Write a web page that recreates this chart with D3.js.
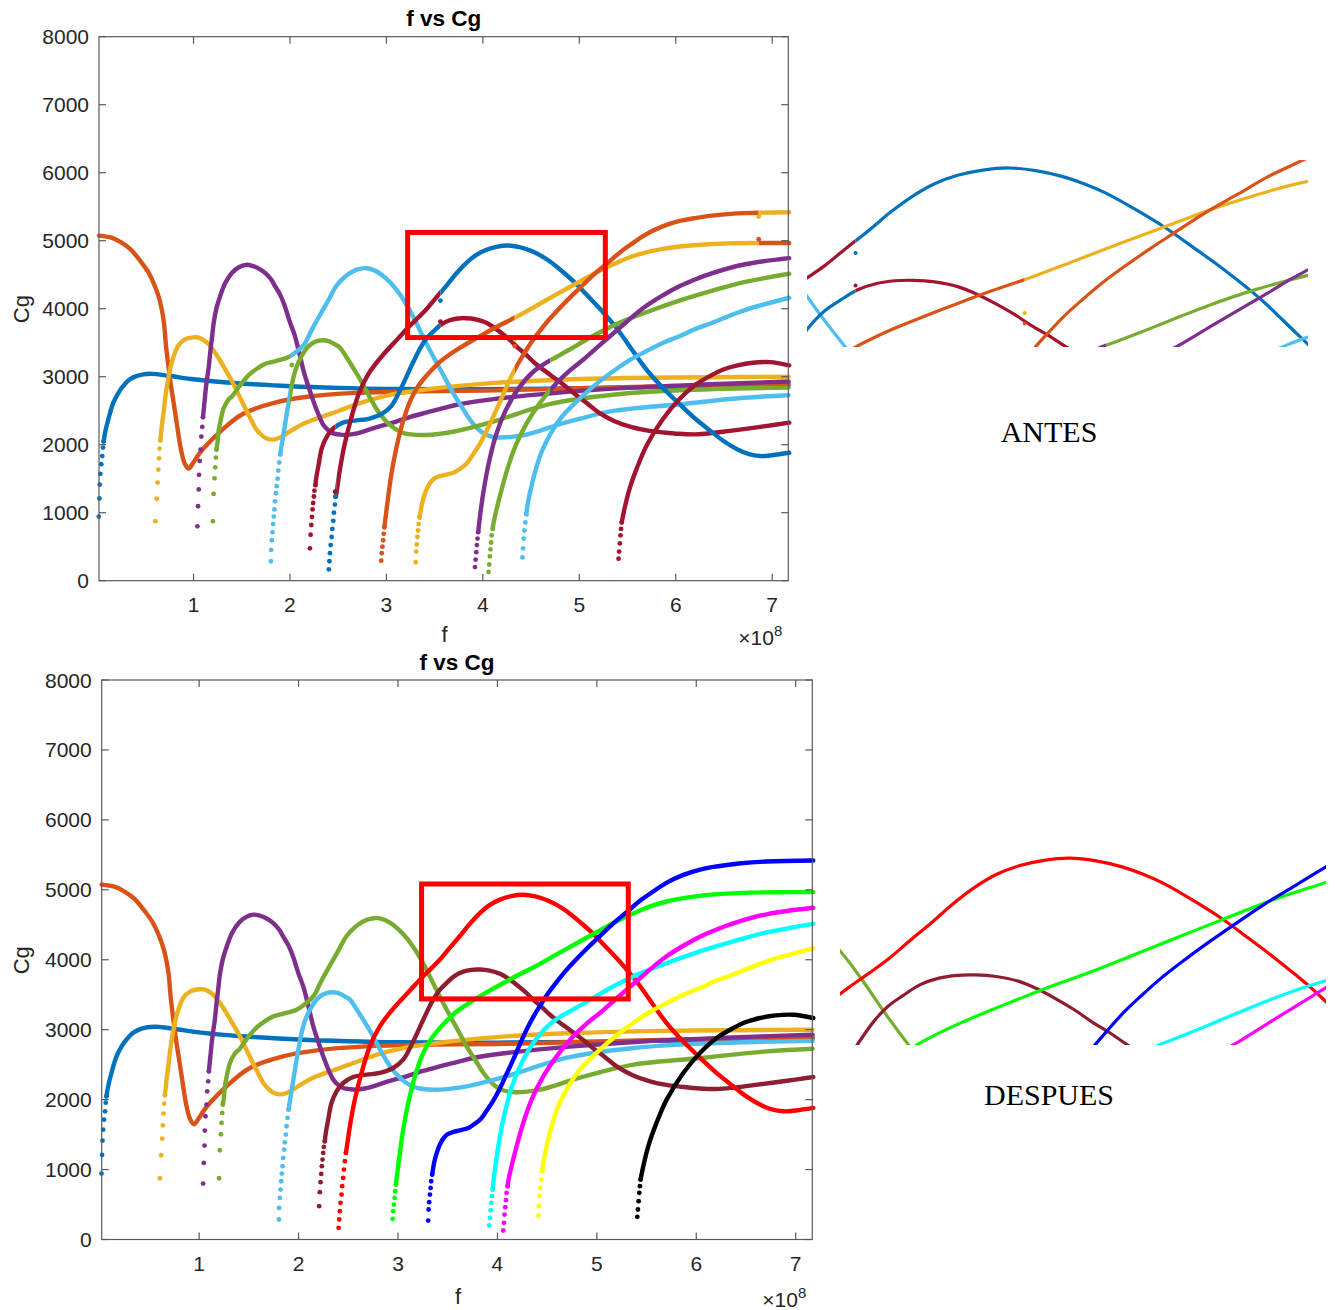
<!DOCTYPE html>
<html><head><meta charset="utf-8">
<script src="https://cdn.jsdelivr.net/npm/d3@7"></script>
<style>body{margin:0;background:#fff}svg{display:block}</style>
</head><body>
<svg id="c" width="1335" height="1310"></svg>
<script>
// ---------------- data (f in units of 1e8, Cg) ----------------
const xTicks = [1,2,3,4,5,6,7];
const yTicks = [0,1000,2000,3000,4000,5000,6000,7000,8000];
const fDomain = [0.02, 7.167];
const cgDomain = [0, 8000];

const m1Dots = [[0.018,943],[0.024,1210],[0.028,1414],[0.034,1571],[0.044,1714],[0.054,1833],[0.061,1957],[0.068,2048]];
const m1 = [[0.085,2190],[0.118,2381],[0.169,2619],[0.22,2760],[0.27,2860],[0.33,2950],[0.40,3005],[0.48,3035],[0.57,3042],[0.74,3014],[1.0,2962],[1.25,2925],[1.5,2900],[2.0,2860],[2.5,2835],[3.0,2820],[4.0,2815],[5.0,2830],[6.0,2850],[7.17,2870]];

const m2Dots = [];
const m2 = [[0.02,5075],[0.15,5045],[0.25,4975],[0.35,4870],[0.45,4700],[0.53,4540],[0.6,4330],[0.65,4120],[0.69,3830],[0.715,3450],[0.74,3150],[0.765,2880],[0.8,2560],[0.833,2250],[0.87,1930],[0.91,1720],[0.95,1648],[0.99,1720],[1.05,1850],[1.108,1952],[1.275,2190],[1.51,2452],[1.845,2619],[2.18,2705],[2.68,2762],[3.36,2786],[4.0,2795],[5.0,2830],[6.0,2865],[7.17,2900]];

const m3Dots = [[0.605,876],[0.618,1205],[0.628,1443],[0.635,1633],[0.642,1800],[0.648,1943],[0.655,2062]];
const m3 = [[0.665,2181],[0.672,2286],[0.69,2476],[0.705,2667],[0.735,2952],[0.78,3238],[0.84,3452],[0.91,3548],[1.0,3578],[1.06,3572],[1.14,3500],[1.21,3380],[1.275,3238],[1.34,3080],[1.41,2905],[1.48,2700],[1.54,2524],[1.6,2360],[1.645,2238],[1.7,2150],[1.745,2100],[1.81,2075],[1.88,2095],[1.95,2150],[2.05,2240],[2.18,2333],[2.35,2420],[2.51,2500],[2.68,2590],[2.85,2667],[3.1,2750],[3.4,2810],[3.75,2865],[4.09,2905],[4.76,2952],[5.5,2980],[6.37,2992],[7.17,3000]];

const m4Dots = [[1.040,800],[1.047,1095],[1.054,1343],[1.057,1557],[1.064,1762],[1.074,1929],[1.081,2119],[1.091,2262],[1.098,2405]];
const m4 = [[1.108,2548],[1.118,2690],[1.128,2833],[1.141,2976],[1.158,3143],[1.175,3381],[1.191,3571],[1.21,3800],[1.24,4020],[1.275,4180],[1.33,4380],[1.4,4530],[1.47,4610],[1.543,4645],[1.61,4630],[1.678,4590],[1.745,4524],[1.8,4440],[1.845,4333],[1.9,4200],[1.946,4040],[2.0,3800],[2.047,3619],[2.1,3330],[2.148,3048],[2.2,2820],[2.248,2619],[2.3,2430],[2.349,2286],[2.4,2210],[2.449,2167],[2.52,2148],[2.583,2143],[2.65,2155],[2.751,2190],[2.9,2260],[3.086,2333],[3.25,2410],[3.421,2476],[3.6,2540],[3.757,2595],[4.092,2667],[4.763,2762],[5.5,2835],[6.3,2885],[7.17,2930]];

const m5Dots = [[1.201,876],[1.208,1276],[1.218,1505],[1.225,1667],[1.232,1810],[1.238,1929]];
const m5 = [[1.248,2024],[1.26,2200],[1.28,2350],[1.31,2524],[1.36,2660],[1.41,2730],[1.48,2870],[1.577,3030],[1.66,3120],[1.745,3190],[1.85,3230],[1.98,3286],[2.06,3360],[2.148,3476],[2.23,3700],[2.31,3905],[2.4,4130],[2.48,4333],[2.57,4470],[2.65,4548],[2.72,4585],[2.8,4595],[2.88,4560],[2.95,4500],[3.05,4370],[3.15,4190],[3.237,3990],[3.32,3762],[3.40,3530],[3.49,3286],[3.6,3000],[3.69,2762],[3.78,2560],[3.86,2381],[3.95,2230],[4.03,2150],[4.12,2110],[4.19,2105],[4.3,2115],[4.43,2143],[4.6,2210],[4.76,2286],[5.0,2380],[5.37,2500],[6.04,2595],[6.71,2690],[7.17,2728]];

const m6Dots = [[1.802,286],[1.805,452],[1.812,595],[1.819,714],[1.825,833],[1.832,943],[1.839,1048],[1.845,1167],[1.855,1286],[1.862,1390],[1.872,1500],[1.879,1619],[1.889,1738],[1.899,1857]];
const m6 = [[1.912,1976],[1.929,2119],[1.953,2333],[1.986,2619],[2.03,2952],[2.06,3110],[2.097,3238],[2.14,3350],[2.18,3429],[2.23,3490],[2.28,3524],[2.34,3535],[2.40,3524],[2.46,3480],[2.516,3429],[2.58,3300],[2.65,3143],[2.72,2980],[2.785,2810],[2.85,2640],[2.92,2476],[3.0,2340],[3.086,2238],[3.16,2180],[3.25,2152],[3.42,2143],[3.55,2160],[3.69,2190],[4.09,2333],[4.7,2600],[5.37,2738],[6.04,2800],[7.17,2840]];

const m7Dots = [[2.207,476],[2.214,676],[2.221,819],[2.228,938],[2.234,1048],[2.241,1143],[2.248,1238],[2.254,1324],[2.264,1405]];
const m7 = [[2.274,1524],[2.298,1714],[2.331,1952],[2.382,2119],[2.449,2238],[2.549,2324],[2.683,2357],[2.817,2381],[2.952,2452],[3.052,2571],[3.153,2833],[3.254,3143],[3.354,3429],[3.42,3570],[3.488,3667],[3.57,3770],[3.656,3830],[3.74,3856],[3.824,3860],[3.92,3845],[4.025,3800],[4.11,3730],[4.193,3643],[4.28,3540],[4.361,3429],[4.45,3320],[4.528,3214],[4.62,3110],[4.696,3030],[4.83,2890],[4.95,2750],[5.08,2610],[5.199,2476],[5.36,2350],[5.534,2262],[5.7,2210],[5.869,2181],[6.03,2160],[6.205,2152],[6.37,2170],[6.54,2200],[6.875,2262],[7.177,2324]];

const m8Dots = [[2.403,167],[2.409,286],[2.415,405],[2.422,524],[2.432,643],[2.439,762],[2.449,881],[2.456,1000],[2.466,1119],[2.476,1238]];
const m8 = [[2.489,1357],[2.516,1619],[2.566,2000],[2.633,2381],[2.717,2762],[2.817,3048],[2.952,3300],[3.12,3560],[3.237,3740],[3.33,3870],[3.42,4000],[3.52,4170],[3.623,4340],[3.72,4510],[3.824,4667],[3.92,4780],[4.025,4860],[4.14,4910],[4.26,4930],[4.38,4905],[4.5,4850],[4.6,4780],[4.7,4690],[4.83,4540],[4.964,4370],[5.08,4200],[5.2,4020],[5.3,3860],[5.366,3750],[5.434,3625],[5.57,3350],[5.702,3095],[5.87,2830],[6.037,2600],[6.2,2385],[6.372,2190],[6.5,2050],[6.641,1929],[6.76,1860],[6.875,1833],[7.0,1845],[7.177,1881]];

const m9Dots = [[2.946,295],[2.952,405],[2.959,500],[2.966,595],[2.972,690],[2.979,786]];
const m9 = [[2.993,952],[3.019,1238],[3.052,1571],[3.103,1952],[3.170,2333],[3.254,2667],[3.32,2840],[3.388,2970],[3.47,3100],[3.556,3220],[3.66,3330],[3.757,3420],[3.9,3540],[4.025,3640],[4.18,3760],[4.361,3890],[4.55,4040],[4.763,4210],[5.031,4420],[5.2,4550],[5.366,4660],[5.53,4760],[5.702,4833],[5.87,4880],[6.037,4914],[6.3,4945],[6.54,4960],[6.86,4966],[7.177,4967]];

const m10Dots = [[3.304,271],[3.308,429],[3.314,533],[3.321,643],[3.328,738],[3.334,833],[3.344,929]];
const m10 = [[3.371,1143],[3.421,1357],[3.47,1470],[3.505,1510],[3.56,1540],[3.623,1560],[3.70,1590],[3.757,1640],[3.83,1720],[3.891,1840],[3.96,1990],[4.025,2160],[4.09,2360],[4.159,2571],[4.226,2790],[4.293,3000],[4.36,3180],[4.428,3340],[4.51,3520],[4.595,3680],[4.68,3830],[4.763,3960],[4.9,4160],[5.0,4297],[5.15,4500],[5.30,4680],[5.44,4850],[5.53,4940],[5.7,5100],[5.87,5214],[6.04,5290],[6.2,5333],[6.45,5380],[6.71,5405],[7.177,5419]];

const m11Dots = [[3.918,200],[3.925,310],[3.932,419],[3.938,524],[3.945,619],[3.952,714]];
const m11 = [[3.959,810],[3.975,1000],[4.009,1333],[4.059,1714],[4.126,2095],[4.227,2476],[4.361,2810],[4.528,3080],[4.65,3200],[4.763,3290],[4.9,3400],[5.031,3510],[5.165,3619],[5.366,3762],[5.55,3870],[5.702,3952],[6.037,4119],[6.372,4262],[6.708,4390],[7.177,4514]];

const m12Dots = [[4.059,129],[4.066,238],[4.072,357],[4.079,462],[4.086,562],[4.092,667],[4.102,762]];
const m12 = [[4.112,857],[4.142,1048],[4.193,1333],[4.26,1667],[4.344,2000],[4.461,2333],[4.595,2619],[4.763,2905],[4.9,3090],[5.04,3250],[5.2,3450],[5.44,3743],[5.55,3880],[5.702,4050],[5.87,4200],[6.037,4330],[6.2,4430],[6.372,4520],[6.708,4650],[7.177,4743]];

const m13Dots = [[4.411,343],[4.417,476],[4.424,619],[4.431,738],[4.441,857],[4.451,976]];
const m13 = [[4.461,1095],[4.495,1333],[4.545,1619],[4.612,1905],[4.713,2190],[4.83,2429],[5.031,2714],[5.2,2920],[5.366,3095],[5.53,3250],[5.702,3381],[5.87,3500],[6.037,3595],[6.2,3700],[6.372,3790],[6.708,3976],[7.177,4161]];

const m14Dots = [[5.407,324],[5.413,429],[5.42,548],[5.427,667],[5.433,762],[5.44,857]];
const m14 = [[5.467,1048],[5.517,1333],[5.6,1667],[5.702,2000],[5.869,2381],[6.037,2667],[6.205,2881],[6.372,3024],[6.5,3110],[6.641,3167],[6.8,3205],[6.976,3214],[7.177,3167]];

// "ANTES" (before) tracking: [f where segment starts, palette index]
const antes1 = [[0,0]];
const antes2 = [[0,1]];
const antes3 = [[0,2]];
const antes4 = [[0,3]];
const antes5 = [[0,4],[2.0,5]];
const antes6 = [[0,5],[2.0,4]];
const antes7 = [[0,6],[2.47,0],[3.56,6]];
const antes8 = [[0,0],[2.48,6],[3.56,0]];
const antes9 = [[0,1],[4.33,2],[6.86,1]];
const antes10 = [[0,2],[4.33,1],[6.86,2]];
const antes11 = [[0,3],[4.70,4]];
const antes12 = [[0,4],[4.70,3]];
const antes13 = [[0,5]];
const antes14 = [[0,6]];

// stray single points in the "ANTES" plot
const strayF     = [2.02, 2.468, 2.47, 3.56, 3.56, 4.33, 4.33, 6.86, 6.86];
const strayCg    = [3172, 1309, 1235, 4120, 3810, 3550, 3450, 5353, 5021];
const strayColor = [4, 6, 0, 0, 6, 2, 1, 2, 1];

// zoom rectangles (f range, Cg range)
const rectAntes   = [3.22, 5.27, 3576, 5121];
const rectDespues = [3.237, 5.316, 3440, 5083];
const insetAntesDomain   = [[3.339, 5.62], [3225, 5006]];
const insetDespuesDomain = [[3.20, 5.44], [3217, 5142]];

// ---------------- styles ----------------
const matlabPalette = ['#0072BD','#D95319','#EDB120','#7E2F8E','#77AC30','#4DBEEE','#A2142F'];
const despuesColors = ['#0072BD','#D95319','#EDB120','#7E2F8E','#77AC30','#4DBEEE','#8E1E2F',
                       '#FF0000','#00FF00','#0000FF','#00FFFF','#FF00FF','#FFFF00','#000000'];

const modeLines = [m1,m2,m3,m4,m5,m6,m7,m8,m9,m10,m11,m12,m13,m14];
const modeDots  = [m1Dots,m2Dots,m3Dots,m4Dots,m5Dots,m6Dots,m7Dots,m8Dots,m9Dots,m10Dots,m11Dots,m12Dots,m13Dots,m14Dots];
const antesSegs = [antes1,antes2,antes3,antes4,antes5,antes6,antes7,antes8,antes9,antes10,antes11,antes12,antes13,antes14];

const svg = d3.select('#c');
const defs = svg.append('defs');
let clipId = 0;
function addClip(x0, y0, w, h) {
  const id = 'cp' + (clipId++);
  defs.append('clipPath').attr('id', id).append('rect')
    .attr('x', x0).attr('y', y0).attr('width', Math.max(0, w)).attr('height', h);
  return 'url(#' + id + ')';
}
function fullLine(i) {
  const d = modeDots[i];
  return (d.length ? [d[d.length - 1]] : []).concat(modeLines[i]);
}
function segColor(segs, f) {
  let c = segs[0][1];
  for (const s of segs) if (f >= s[0]) c = s[1];
  return c;
}

function drawCurves(g, x, y, mode, lw, r, yTop, yBot) {
  const line = d3.line().curve(d3.curveCatmullRom.alpha(0.5)).x(d => x(d[0])).y(d => y(d[1]));
  for (let i = 0; i < modeLines.length; i++) {
    const data = fullLine(i);
    if (mode === 'despues') {
      g.append('path').attr('d', line(data)).attr('fill', 'none')
        .attr('stroke', despuesColors[i]).attr('stroke-width', lw).attr('stroke-linecap', 'round');
      g.selectAll(null).data(modeDots[i]).enter().append('circle')
        .attr('cx', d => x(d[0])).attr('cy', d => y(d[1])).attr('r', r).attr('fill', despuesColors[i]);
    } else {
      const segs = antesSegs[i];
      segs.forEach((s, k) => {
        const fa = k === 0 ? -10 : s[0];
        const fb = k + 1 < segs.length ? segs[k + 1][0] : 20;
        const xa = x(fa), xb = x(fb);
        g.append('path').attr('d', line(data)).attr('fill', 'none')
          .attr('stroke', matlabPalette[s[1]]).attr('stroke-width', lw).attr('stroke-linecap', 'round')
          .attr('clip-path', addClip(xa, yTop - 20, xb - xa, yBot - yTop + 40));
      });
      g.selectAll(null).data(modeDots[i]).enter().append('circle')
        .attr('cx', d => x(d[0])).attr('cy', d => y(d[1])).attr('r', r)
        .attr('fill', d => matlabPalette[segColor(segs, d[0])]);
    }
  }
  if (mode === 'antes') {
    g.selectAll(null).data(strayF).enter().append('circle')
      .attr('cx', d => x(d)).attr('cy', (d, k) => y(strayCg[k])).attr('r', r)
      .attr('fill', (d, k) => matlabPalette[strayColor[k]]);
  }
}

function panel(o) {
  const x = d3.scaleLinear().domain(fDomain).range([o.left, o.right]);
  const y = d3.scaleLinear().domain(cgDomain).range([o.bottom, o.top]);
  const g = svg.append('g');
  const axisCol = '#5a5a5a', txtCol = '#262626';
  const font = '"Liberation Sans", Arial, Helvetica, sans-serif';

  // curves
  const cg = g.append('g');
  drawCurves(cg, x, y, o.mode, 4.4, 2.4, o.top, o.bottom);

  // box + ticks
  g.append('rect').attr('x', o.left).attr('y', o.top)
    .attr('width', o.right - o.left).attr('height', o.bottom - o.top)
    .attr('fill', 'none').attr('stroke', axisCol).attr('stroke-width', 1.2);
  const tl = 7;
  xTicks.forEach(t => {
    g.append('line').attr('x1', x(t)).attr('x2', x(t)).attr('y1', o.bottom).attr('y2', o.bottom - tl)
      .attr('stroke', axisCol).attr('stroke-width', 1.2);
    g.append('line').attr('x1', x(t)).attr('x2', x(t)).attr('y1', o.top).attr('y2', o.top + tl)
      .attr('stroke', axisCol).attr('stroke-width', 1.2);
    g.append('text').attr('x', x(t)).attr('y', o.bottom + 31).attr('text-anchor', 'middle')
      .attr('font-family', font).attr('font-size', 21).attr('fill', txtCol).text(t);
  });
  yTicks.forEach(t => {
    g.append('line').attr('x1', o.left).attr('x2', o.left + tl).attr('y1', y(t)).attr('y2', y(t))
      .attr('stroke', axisCol).attr('stroke-width', 1.2);
    g.append('line').attr('x1', o.right).attr('x2', o.right - tl).attr('y1', y(t)).attr('y2', y(t))
      .attr('stroke', axisCol).attr('stroke-width', 1.2);
    g.append('text').attr('x', o.left - 10).attr('y', y(t) + 7.5).attr('text-anchor', 'end')
      .attr('font-family', font).attr('font-size', 21).attr('fill', txtCol).text(t);
  });
  // title & labels
  g.append('text').attr('x', (o.left + o.right) / 2).attr('y', o.top - 10.5).attr('text-anchor', 'middle')
    .attr('font-family', font).attr('font-size', 22.5).attr('font-weight', 'bold').attr('fill', '#000').text('f vs Cg');
  g.append('text').attr('x', (o.left + o.right) / 2 + 1).attr('y', o.bottom + o.fLabelDy).attr('text-anchor', 'middle')
    .attr('font-family', font).attr('font-size', 22).attr('fill', txtCol).text('f');
  g.append('text').attr('transform', `translate(29,${(o.top + o.bottom) / 2 + 0.5}) rotate(-90)`)
    .attr('text-anchor', 'middle').attr('font-family', font).attr('font-size', 22).attr('fill', txtCol).text('Cg');
  const ex = g.append('text').attr('x', o.right - 50).attr('y', o.bottom + o.expDy)
    .attr('font-family', font).attr('font-size', 21).attr('fill', txtCol);
  ex.append('tspan').text('\u00d710');
  ex.append('tspan').attr('dy', -9).attr('font-size', 15).text('8');

  // red zoom rectangle
  const rr = o.rect;
  g.append('rect').attr('x', x(rr[0])).attr('y', y(rr[3]))
    .attr('width', x(rr[1]) - x(rr[0])).attr('height', y(rr[2]) - y(rr[3]))
    .attr('fill', 'none').attr('stroke', '#FF0000').attr('stroke-width', 5);
}

function inset(o) {
  const x = d3.scaleLinear().domain(o.dom[0]).range([o.x0, o.x1]);
  const y = d3.scaleLinear().domain(o.dom[1]).range([o.y1, o.y0]);
  const g = svg.append('g').attr('clip-path', addClip(o.x0, o.y0, o.x1 - o.x0, o.y1 - o.y0));
  drawCurves(g, x, y, o.mode, 3.2, 2, o.y0, o.y1);
  svg.append('text').attr('x', o.lx).attr('y', o.ly).attr('text-anchor', 'middle')
    .attr('font-family', '"Liberation Serif", "Times New Roman", serif').attr('font-size', 30)
    .attr('fill', '#000').text(o.label);
}

panel({mode: 'antes', left: 99, right: 788.3, top: 36.7, bottom: 580.7, rect: rectAntes, fLabelDy: 61, expDy: 64});
panel({mode: 'despues', left: 101.7, right: 812.3, top: 680, bottom: 1239.5, rect: rectDespues, fLabelDy: 64, expDy: 67});
inset({mode: 'antes', dom: insetAntesDomain, x0: 807, x1: 1308, y0: 160, y1: 347, label: 'ANTES', lx: 1049, ly: 442});
inset({mode: 'despues', dom: insetDespuesDomain, x0: 840, x1: 1326, y0: 835, y1: 1045, label: 'DESPUES', lx: 1049, ly: 1105});
</script>
</body></html>
